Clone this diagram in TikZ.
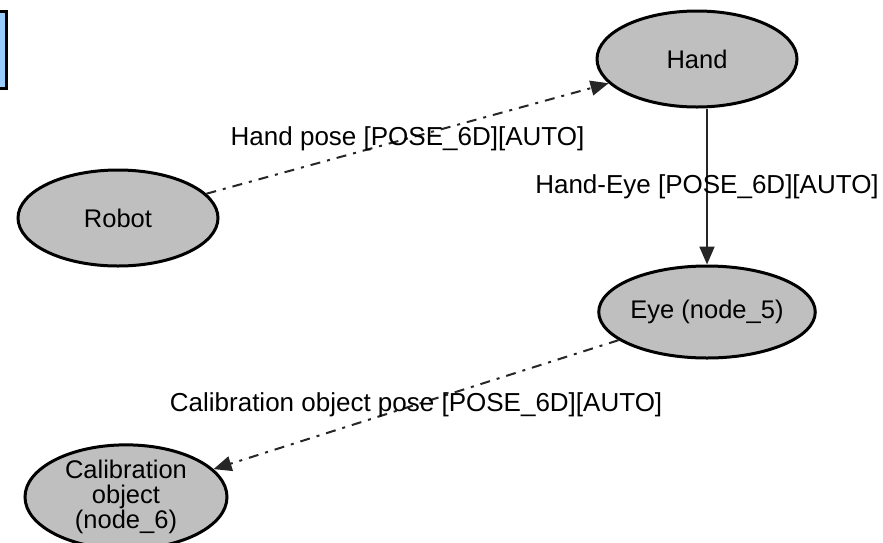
\documentclass[tikz,border=0pt]{standalone}
\usepackage{fontspec}
\setmainfont{Liberation Sans}
\usetikzlibrary{shapes.geometric,arrows.meta}

\begin{document}
\begin{tikzpicture}[x=1pt, y=-1pt,
		frame/.style={ellipse, draw, line width=3pt, fill=gray!50, inner sep=0pt, minimum width=200pt, minimum height=96pt, align=center, font=\fontsize{25.5}{25}\selectfont},
		link/.style={line width=2pt, draw=black!85, -{Triangle[length=18pt,width=15pt]}},
		autolink/.style={link, dash pattern=on 10pt off 7pt on 3pt off 7pt},
		lbl/.style={font=\fontsize{26}{26}\selectfont, inner sep=0pt}]
				\clip (0,0) rectangle (883,542);
				\node[draw, line width=3pt, fill={rgb,255:red,153;green,204;blue,255}, minimum width=100pt, minimum height=77pt] (info) at (-44, 49.5) {};
				\node[frame] (Robot) at (118, 218) {Robot};
				\node[frame] (Hand) at (697, 59) {Hand};
				\node[frame, minimum height=92pt] (Eye) at (707, 312) {Eye (node\_5)};
				\node[frame, minimum width=202pt, minimum height=88pt] (Calib) at (126, 497) {Calibration\\object\\(node\_6)};
				\draw [autolink] (Robot) -- (Hand) node[midway, lbl] {Hand pose [POSE\_6D][AUTO]};
				\draw [link] (Hand.south -| Eye.north) -- (Eye.north) node[midway, lbl] {Hand-Eye [POSE\_6D][AUTO]};
				\draw [autolink] (Eye) -- (Calib) node[midway, lbl] {Calibration object pose [POSE\_6D][AUTO]};
		\end{tikzpicture}
\end{document}
